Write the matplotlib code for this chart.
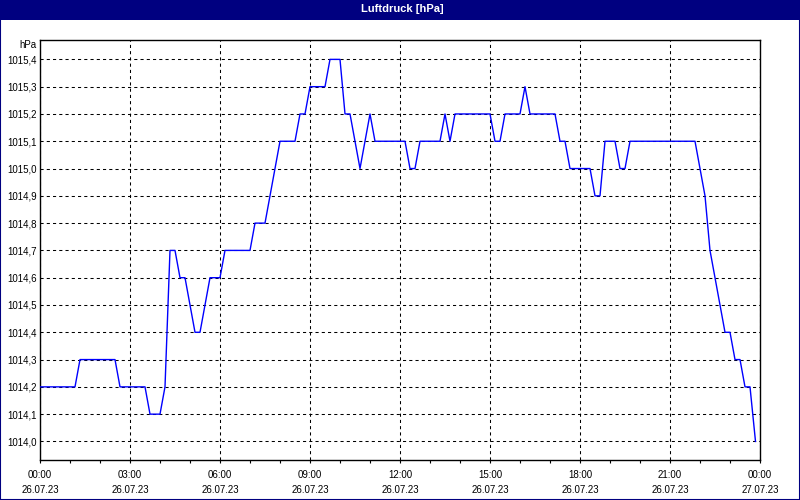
import matplotlib
matplotlib.use("Agg")
import matplotlib.pyplot as plt
from matplotlib.patches import Rectangle
from matplotlib.ticker import FixedLocator, MultipleLocator

# Data: vertices of the pressure curve (minutes since 26.07.23 00:00, hPa)
minutes = [0, 70, 80, 150, 160, 210, 220, 240, 250, 260, 270, 280, 290, 310, 320,
           340, 360, 370, 420, 430, 450, 480, 510, 520, 530, 540, 570, 580, 600,
           610, 620, 640, 660, 670, 730, 740, 750, 760, 800, 810, 820, 830, 900,
           910, 920, 930, 960, 970, 980, 1030, 1040, 1050, 1060, 1100, 1110, 1120,
           1130, 1150, 1160, 1170, 1180, 1310, 1320, 1330, 1340, 1350, 1370, 1380,
           1390, 1400, 1410, 1420, 1431]
pressure = [1014.2, 1014.2, 1014.3, 1014.3, 1014.2, 1014.2, 1014.1, 1014.1, 1014.2,
            1014.7, 1014.7, 1014.6, 1014.6, 1014.4, 1014.4, 1014.6, 1014.6, 1014.7,
            1014.7, 1014.8, 1014.8, 1015.1, 1015.1, 1015.2, 1015.2, 1015.3, 1015.3,
            1015.4, 1015.4, 1015.2, 1015.2, 1015.0, 1015.2, 1015.1, 1015.1, 1015.0,
            1015.0, 1015.1, 1015.1, 1015.2, 1015.1, 1015.2, 1015.2, 1015.1, 1015.1,
            1015.2, 1015.2, 1015.3, 1015.2, 1015.2, 1015.1, 1015.1, 1015.0, 1015.0,
            1014.9, 1014.9, 1015.1, 1015.1, 1015.0, 1015.0, 1015.1, 1015.1, 1015.0,
            1014.9, 1014.7, 1014.6, 1014.4, 1014.4, 1014.3, 1014.3, 1014.2, 1014.2,
            1014.0]

x_tick_hours = [0, 3, 6, 9, 12, 15, 18, 21, 24]
x_tick_labels = ["00:00\n26.07.23", "03:00\n26.07.23", "06:00\n26.07.23",
                 "09:00\n26.07.23", "12:00\n26.07.23", "15:00\n26.07.23",
                 "18:00\n26.07.23", "21:00\n26.07.23", "00:00\n27.07.23"]
y_ticks = [1014.0, 1014.1, 1014.2, 1014.3, 1014.4, 1014.5, 1014.6, 1014.7,
           1014.8, 1014.9, 1015.0, 1015.1, 1015.2, 1015.3, 1015.4]
title = "Luftdruck [hPa]"
unit = "hPa"

hours = [m / 60.0 for m in minutes]

plt.rcParams["font.family"] = ["Liberation Sans", "DejaVu Sans"]
fs = 7.0

fig = plt.figure(figsize=(8, 5), dpi=100)
fig.patch.set_facecolor("white")

# title bar and border
navy = "#000080"
fig.patches.append(Rectangle((0, 0.96), 1, 0.04, transform=fig.transFigure,
                             facecolor=navy, edgecolor="none", zorder=0))
fig.patches.append(Rectangle((0.0006, 0.001), 0.9988, 0.998, transform=fig.transFigure,
                             facecolor="none", edgecolor=navy, linewidth=1.5, zorder=5))
fig.text(0.5025, 0.982, title, color="white", fontsize=8.0, fontweight="bold",
         ha="center", va="center")

ax = fig.add_axes([0.05, 0.08, 0.90, 0.84])
ax.plot(hours, pressure, color="#0000FF", linewidth=1.0, zorder=3)

ax.set_xlim(0, 24)
ax.set_ylim(1013.932, 1015.471)

ax.xaxis.set_major_locator(FixedLocator(x_tick_hours))
ax.set_xticklabels(x_tick_labels, fontsize=fs, linespacing=1.7)
ax.xaxis.set_minor_locator(MultipleLocator(1))
ax.tick_params(axis="x", which="both", direction="out", length=2.5, width=0.8,
               pad=4.5, colors="black")

ax.set_yticks(y_ticks)
ax.set_yticklabels([f"{v:.1f}".replace(".", ",") for v in y_ticks], fontsize=fs)
ax.tick_params(axis="y", which="both", length=0, pad=2.5)

ax.grid(True, which="major", color="black", linestyle=(0, (3, 3)), linewidth=0.75)
for s in ax.spines.values():
    s.set_color("black")
    s.set_linewidth(1.0)

fig.text(0.046, 0.911, unit, fontsize=fs, ha="right", va="center")

fig.savefig("out.png", dpi=100)
